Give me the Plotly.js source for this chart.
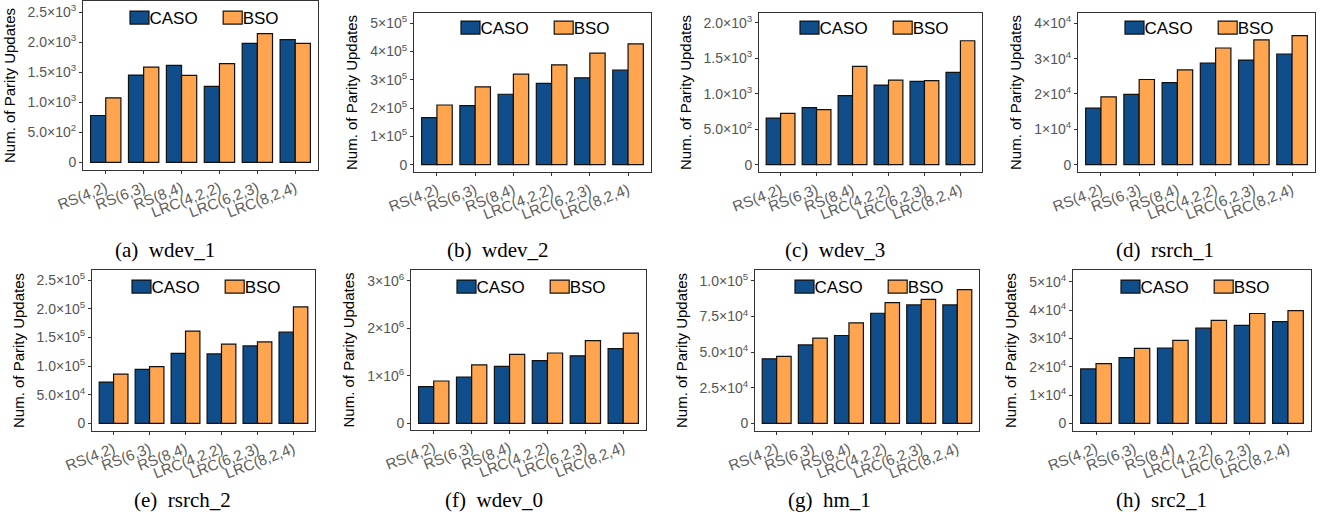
<!DOCTYPE html>
<html><head><meta charset="utf-8">
<script src="https://cdn.plot.ly/plotly-3.0.1.min.js"></script>
<style>html,body{margin:0;padding:0;background:#fff;} #chart{width:1324px;height:523px;}</style>
</head><body><div id="chart"></div>
<script>
// ---------- data ----------
const categories = ['RS(4,2)', 'RS(6,3)', 'RS(8,4)', 'LRC(4,2,2)', 'LRC(6,2,3)', 'LRC(8,2,4)'];
const seriesNames = ['CASO', 'BSO'];
const yTitle = 'Num. of Parity Updates';

const wdev1_CASO = [780, 1453, 1615, 1264, 1982, 2043];
const wdev1_BSO  = [1075, 1587, 1448, 1643, 2144, 1982];
const wdev2_CASO = [166000, 209000, 249000, 287000, 307000, 334000];
const wdev2_BSO  = [211000, 275000, 320000, 353000, 394000, 427000];
const wdev3_CASO = [657, 803, 972, 1122, 1174, 1300];
const wdev3_BSO  = [723, 775, 1385, 1192, 1183, 1746];
const rsrch1_CASO = [16000, 19900, 23200, 28700, 29600, 31300];
const rsrch1_BSO  = [19200, 24100, 26800, 33000, 35300, 36500];
const rsrch2_CASO = [72000, 94000, 122000, 121000, 135000, 159000];
const rsrch2_BSO  = [86000, 99000, 161000, 138000, 142000, 203000];
const wdev0_CASO = [770000, 970000, 1200000, 1320000, 1420000, 1570000];
const wdev0_BSO  = [890000, 1230000, 1450000, 1480000, 1740000, 1900000];
const hm1_CASO = [45300, 55100, 61700, 77300, 83200, 83200];
const hm1_BSO  = [47000, 59800, 70600, 84800, 87100, 93900];
const src21_CASO = [19200, 23200, 26600, 33600, 34600, 35900];
const src21_BSO  = [21100, 26500, 29300, 36400, 38800, 39800];

// tick values / labels
const wdev1_tickVals = [0, 500, 1000, 1500, 2000, 2500];
const wdev1_tickText = ['0', '5.0×10<sup>2</sup>', '1.0×10<sup>3</sup>', '1.5×10<sup>3</sup>', '2.0×10<sup>3</sup>', '2.5×10<sup>3</sup>'];
const wdev2_tickVals = [0, 100000, 200000, 300000, 400000, 500000];
const wdev2_tickText = ['0', '1×10<sup>5</sup>', '2×10<sup>5</sup>', '3×10<sup>5</sup>', '4×10<sup>5</sup>', '5×10<sup>5</sup>'];
const wdev3_tickVals = [0, 500, 1000, 1500, 2000];
const wdev3_tickText = ['0', '5.0×10<sup>2</sup>', '1.0×10<sup>3</sup>', '1.5×10<sup>3</sup>', '2.0×10<sup>3</sup>'];
const rsrch1_tickVals = [0, 10000, 20000, 30000, 40000];
const rsrch1_tickText = ['0', '1×10<sup>4</sup>', '2×10<sup>4</sup>', '3×10<sup>4</sup>', '4×10<sup>4</sup>'];
const rsrch2_tickVals = [0, 50000, 100000, 150000, 200000, 250000];
const rsrch2_tickText = ['0', '5.0×10<sup>4</sup>', '1.0×10<sup>5</sup>', '1.5×10<sup>5</sup>', '2.0×10<sup>5</sup>', '2.5×10<sup>5</sup>'];
const wdev0_tickVals = [0, 1000000, 2000000, 3000000];
const wdev0_tickText = ['0', '1×10<sup>6</sup>', '2×10<sup>6</sup>', '3×10<sup>6</sup>'];
const hm1_tickVals = [0, 25000, 50000, 75000, 100000];
const hm1_tickText = ['0', '2.5×10<sup>4</sup>', '5.0×10<sup>4</sup>', '7.5×10<sup>4</sup>', '1.0×10<sup>5</sup>'];
const src21_tickVals = [0, 10000, 20000, 30000, 40000, 50000];
const src21_tickText = ['0', '1×10<sup>4</sup>', '2×10<sup>4</sup>', '3×10<sup>4</sup>', '4×10<sup>4</sup>', '5×10<sup>4</sup>'];

const captionLabels = ['(a)', '(b)', '(c)', '(d)', '(e)', '(f)', '(g)', '(h)'];
const traceNames = ['wdev_1', 'wdev_2', 'wdev_3', 'rsrch_1', 'rsrch_2', 'wdev_0', 'hm_1', 'src2_1'];

// ---------- layout config (pixels) ----------
const W = 1324, H = 523;
const panels = [
  {caso: wdev1_CASO, bso: wdev1_BSO, tv: wdev1_tickVals, tt: wdev1_tickText, box: [83, 318, 1, 170], range: [-128, 2688], leg: [197, 18], cap: [165, 250]},
  {caso: wdev2_CASO, bso: wdev2_BSO, tv: wdev2_tickVals, tt: wdev2_tickText, box: [414, 651, 13, 172], range: [-25800, 536000], leg: [528, 28], cap: [497, 250]},
  {caso: wdev3_CASO, bso: wdev3_BSO, tv: wdev3_tickVals, tt: wdev3_tickText, box: [759, 982, 13, 172], range: [-103, 2137], leg: [867, 28], cap: [835, 250]},
  {caso: rsrch1_CASO, bso: rsrch1_BSO, tv: rsrch1_tickVals, tt: rsrch1_tickText, box: [1078, 1315, 13, 172], range: [-2065, 42900], leg: [1192, 28], cap: [1165, 250]},
  {caso: rsrch2_CASO, bso: rsrch2_BSO, tv: rsrch2_tickVals, tt: rsrch2_tickText, box: [92, 315, 270, 431], range: [-13400, 267500], leg: [199, 287], cap: [182, 500]},
  {caso: wdev0_CASO, bso: wdev0_BSO, tv: wdev0_tickVals, tt: wdev0_tickText, box: [411, 646, 270, 430], range: [-141000, 3227000], leg: [524, 287], cap: [494, 500]},
  {caso: hm1_CASO, bso: hm1_BSO, tv: hm1_tickVals, tt: hm1_tickText, box: [755, 979, 270, 431], range: [-5400, 107700], leg: [862, 287], cap: [829, 500]},
  {caso: src21_CASO, bso: src21_BSO, tv: src21_tickVals, tt: src21_tickText, box: [1073, 1311, 270, 431], range: [-2720, 54170], leg: [1188, 287], cap: [1161, 500]}
];

const colors = ['#104E8B', '#FFA54F'];
const traces = [];
const layout = {
  width: W, height: H,
  margin: {l: 0, r: 0, t: 0, b: 0},
  barmode: 'group', bargap: 0.2, bargroupgap: 0,
  paper_bgcolor: '#ffffff', plot_bgcolor: '#ffffff',
  showlegend: true,
  font: {family: 'Liberation Sans, Arial, sans-serif', color: '#000'},
  annotations: []
};

panels.forEach((p, i) => {
  const n = i + 1;
  const sfx = n === 1 ? '' : String(n);
  const xa = 'x' + sfx, ya = 'y' + sfx, lg = 'legend' + sfx;
  [p.caso, p.bso].forEach((vals, k) => {
    traces.push({
      type: 'bar', x: categories, y: vals, name: seriesNames[k],
      xaxis: xa, yaxis: ya, legend: lg,
      marker: {color: colors[k], line: {color: '#111111', width: 1.2}},
      hovertemplate: traceNames[i] + ' %{x}: %{y}<extra>' + seriesNames[k] + '</extra>'
    });
  });
  layout['xaxis' + sfx] = {
    domain: [p.box[0] / W, p.box[1] / W], anchor: ya,
    type: 'category', range: [-0.6, 5.6],
    tickangle: -21, ticks: 'outside', ticklen: 3, tickcolor: '#333', tickwidth: 1,
    showline: true, mirror: true, linecolor: '#333', linewidth: 1,
    showgrid: false, zeroline: false,
    tickfont: {size: 15, color: '#5E5E5E'}, fixedrange: true
  };
  layout['yaxis' + sfx] = {
    domain: [1 - p.box[3] / H, 1 - p.box[2] / H], anchor: xa,
    range: p.range, tickmode: 'array', tickvals: p.tv, ticktext: p.tt,
    ticks: 'outside', ticklen: 3, tickcolor: '#333', tickwidth: 1,
    showline: true, mirror: true, linecolor: '#333', linewidth: 1,
    showgrid: false, zeroline: false,
    tickfont: {size: 14, color: '#555555'}, fixedrange: true,
    title: {text: yTitle, font: {size: 15, color: '#000'}, standoff: 8}
  };
  layout[lg] = {
    orientation: 'h', x: p.leg[0] / W, y: 1 - p.leg[1] / H,
    xanchor: 'center', yanchor: 'middle',
    font: {size: 17, color: '#000'}, bgcolor: 'rgba(0,0,0,0)',
    borderwidth: 0, itemclick: false, itemdoubleclick: false
  };
  layout.annotations.push({
    text: captionLabels[i] + '\u00a0 ' + traceNames[i],
    x: p.cap[0] / W, y: 1 - p.cap[1] / H, xref: 'paper', yref: 'paper',
    xanchor: 'center', yanchor: 'middle', showarrow: false,
    font: {family: 'Liberation Serif, Times New Roman, serif', size: 21, color: '#000'}
  });
});

Plotly.newPlot('chart', traces, layout, {displayModeBar: false}).then(gd => {
  // widen the legend swatches so they sit flush against their labels, as in the reference
  gd.querySelectorAll('.legendpoints path').forEach(el => {
    el.setAttribute('d', 'M19.5,6.5H0.5V-6.5H19.5Z');
  });
});
</script>
</body></html>
